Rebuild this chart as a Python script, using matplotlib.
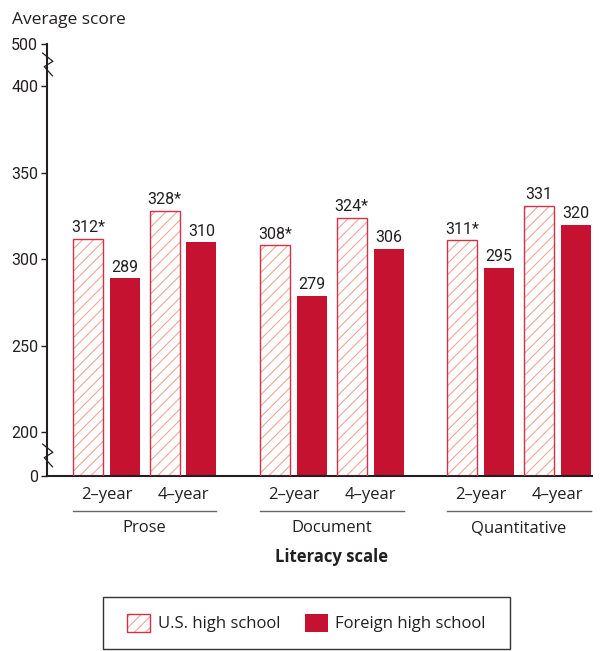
import numpy as np
import matplotlib
matplotlib.use("Agg")
import matplotlib.pyplot as plt
from matplotlib.patches import Patch, Rectangle
from matplotlib.path import Path
from matplotlib.legend_handler import HandlerTuple

# ---------------- data ----------------
groups = ["Prose", "Document", "Quantitative"]
pairs = ["2\u2013year", "4\u2013year"]
us_scores = [312, 328, 308, 324, 311, 331]
foreign_scores = [289, 310, 279, 306, 295, 320]
us_signif = [True, True, True, True, True, False]
series_names = ["U.S. high school", "Foreign high school"]
y_ticks = [0, 200, 250, 300, 350, 400, 500]

RED = "#C41230"
EDGE = "#D23249"
HATCH = "#F0A896"
TXT = "#231F20"

NUM_FONT = ["Roboto", "DejaVu Sans"]
TXT_FONT = ["Open Sans", "DejaVu Sans"]
plt.rcParams["font.family"] = TXT_FONT
plt.rcParams["hatch.linewidth"] = 0.8

W, H = 605, 651
fig = plt.figure(figsize=(W / 100, H / 100), dpi=100)

ax_l, ax_r = 46.5, 592
ax_b, ax_t = 475.5, 43.7
ax = fig.add_axes([ax_l / W, (H - ax_b) / H, (ax_r - ax_l) / W, (ax_b - ax_t) / H])

# broken y-axis: piecewise linear scale
knots_v = np.array([0, 200, 400, 500])
knots_p = np.array([0, 43.2, 389.2, 431.8])
fwd = lambda v: np.interp(v, knots_v, knots_p)
inv = lambda p: np.interp(p, knots_p, knots_v)
ax.set_yscale("function", functions=(fwd, inv))
ax.set_ylim(0, 500)

unit = 30.0  # px per bar-width unit
bw = 1.0
first = (88 - ax_l) / unit
g_step, p_step, s_step = 187 / unit, 76.5 / unit, 37 / unit
ax.set_xlim(0, (ax_r - ax_l) / unit)

n = len(us_scores)
idx = np.arange(n)
gi, pi = idx // 2, idx % 2
x_us = first + gi * g_step + pi * p_step
x_fo = x_us + s_step

ax.bar(x_us, us_scores, width=bw, color="white", edgecolor=HATCH, hatch="///", linewidth=0, zorder=2)
ax.bar(x_us, us_scores, width=bw, color="none", edgecolor=EDGE, linewidth=1.0, zorder=3)
ax.bar(x_fo, foreign_scores, width=bw, color=RED, linewidth=0, zorder=2)

for x, v, s in zip(x_us, us_scores, us_signif):
    ax.annotate(f"{v}*" if s else f"{v}", (x, v), xytext=(0, 2.5), textcoords="offset points",
                ha="center", va="bottom", fontsize=11.5, color=TXT, family=NUM_FONT)
for x, v in zip(x_fo, foreign_scores):
    ax.annotate(f"{v}", (x, v), xytext=(0, 2.5), textcoords="offset points",
                ha="center", va="bottom", fontsize=11.5, color=TXT, family=NUM_FONT)

# axes styling
for s in ["top", "right"]:
    ax.spines[s].set_visible(False)
for s in ["left", "bottom"]:
    ax.spines[s].set_linewidth(1.5)
    ax.spines[s].set_color(TXT)
ax.set_yticks(y_ticks)
ax.set_yticklabels([str(t) for t in y_ticks], family=NUM_FONT, fontsize=11.5, color=TXT)
ax.tick_params(axis="y", length=4, width=1, color=TXT, pad=2)
ax.set_xticks([])

# axis break marks
zz = Path([(-5, 11), (5, 3), (-3, -2), (5, -11)], [Path.MOVETO, Path.LINETO, Path.LINETO, Path.LINETO])
for yb in (95, 452):
    ax.plot([0], [yb], marker=zz, markersize=17, markerfacecolor="none", markeredgecolor=TXT,
            markeredgewidth=0.9, transform=ax.get_yaxis_transform(), clip_on=False, linestyle="none", zorder=5)

# category labels
xt = ax.get_xaxis_transform()
pair_centers = (x_us + x_fo) / 2
for k, c in enumerate(pair_centers):
    ax.annotate(pairs[pi[k]], (c, 0), xycoords=("data", "axes fraction"), xytext=(0, -14),
                textcoords="offset points", ha="center", va="center", fontsize=12, color=TXT)
for g, name in enumerate(groups):
    sel = gi == g
    left = x_us[sel].min() - bw / 2
    right = x_fo[sel].max() + bw / 2
    ax.plot([left, right], [-35.2 / 431.8] * 2, transform=xt, clip_on=False, color="#666666", lw=1.0)
    ax.annotate(name, ((left + right) / 2, 0), xycoords=("data", "axes fraction"), xytext=(0, -38),
                textcoords="offset points", ha="center", va="center", fontsize=12, color=TXT)
doc_center = (x_us[gi == 1].min() + x_fo[gi == 1].max()) / 2
ax.annotate("Literacy scale", (doc_center, 0), xycoords=("data", "axes fraction"), xytext=(0, -59),
            textcoords="offset points", ha="center", va="center", fontsize=12, fontweight="bold", color=TXT)

fig.text(12 / W, 1 - 20 / H, "Average score", ha="left", va="center", fontsize=12.5, color=TXT)

# legend
box = Rectangle((103 / W, (H - 649) / H), 407 / W, (649 - 597) / H, transform=fig.transFigure,
                facecolor="none", edgecolor="#333333", linewidth=1.0)
fig.add_artist(box)
h_us = (Patch(facecolor="white", edgecolor=HATCH, hatch="///", linewidth=0),
        Patch(facecolor="none", edgecolor=EDGE, linewidth=1.0))
h_fo = Patch(facecolor=RED, linewidth=0)
fig.legend([h_us, h_fo], series_names, handler_map={tuple: HandlerTuple(ndivide=1, pad=0)},
           loc="center", bbox_to_anchor=((103 + 510) / 2 / W, 1 - 623 / H), ncol=2, frameon=False,
           fontsize=12, handlelength=1.35, handleheight=1.35, handletextpad=0.45, columnspacing=1.5,
           labelcolor=TXT)

fig.savefig("out.png", dpi=100)
